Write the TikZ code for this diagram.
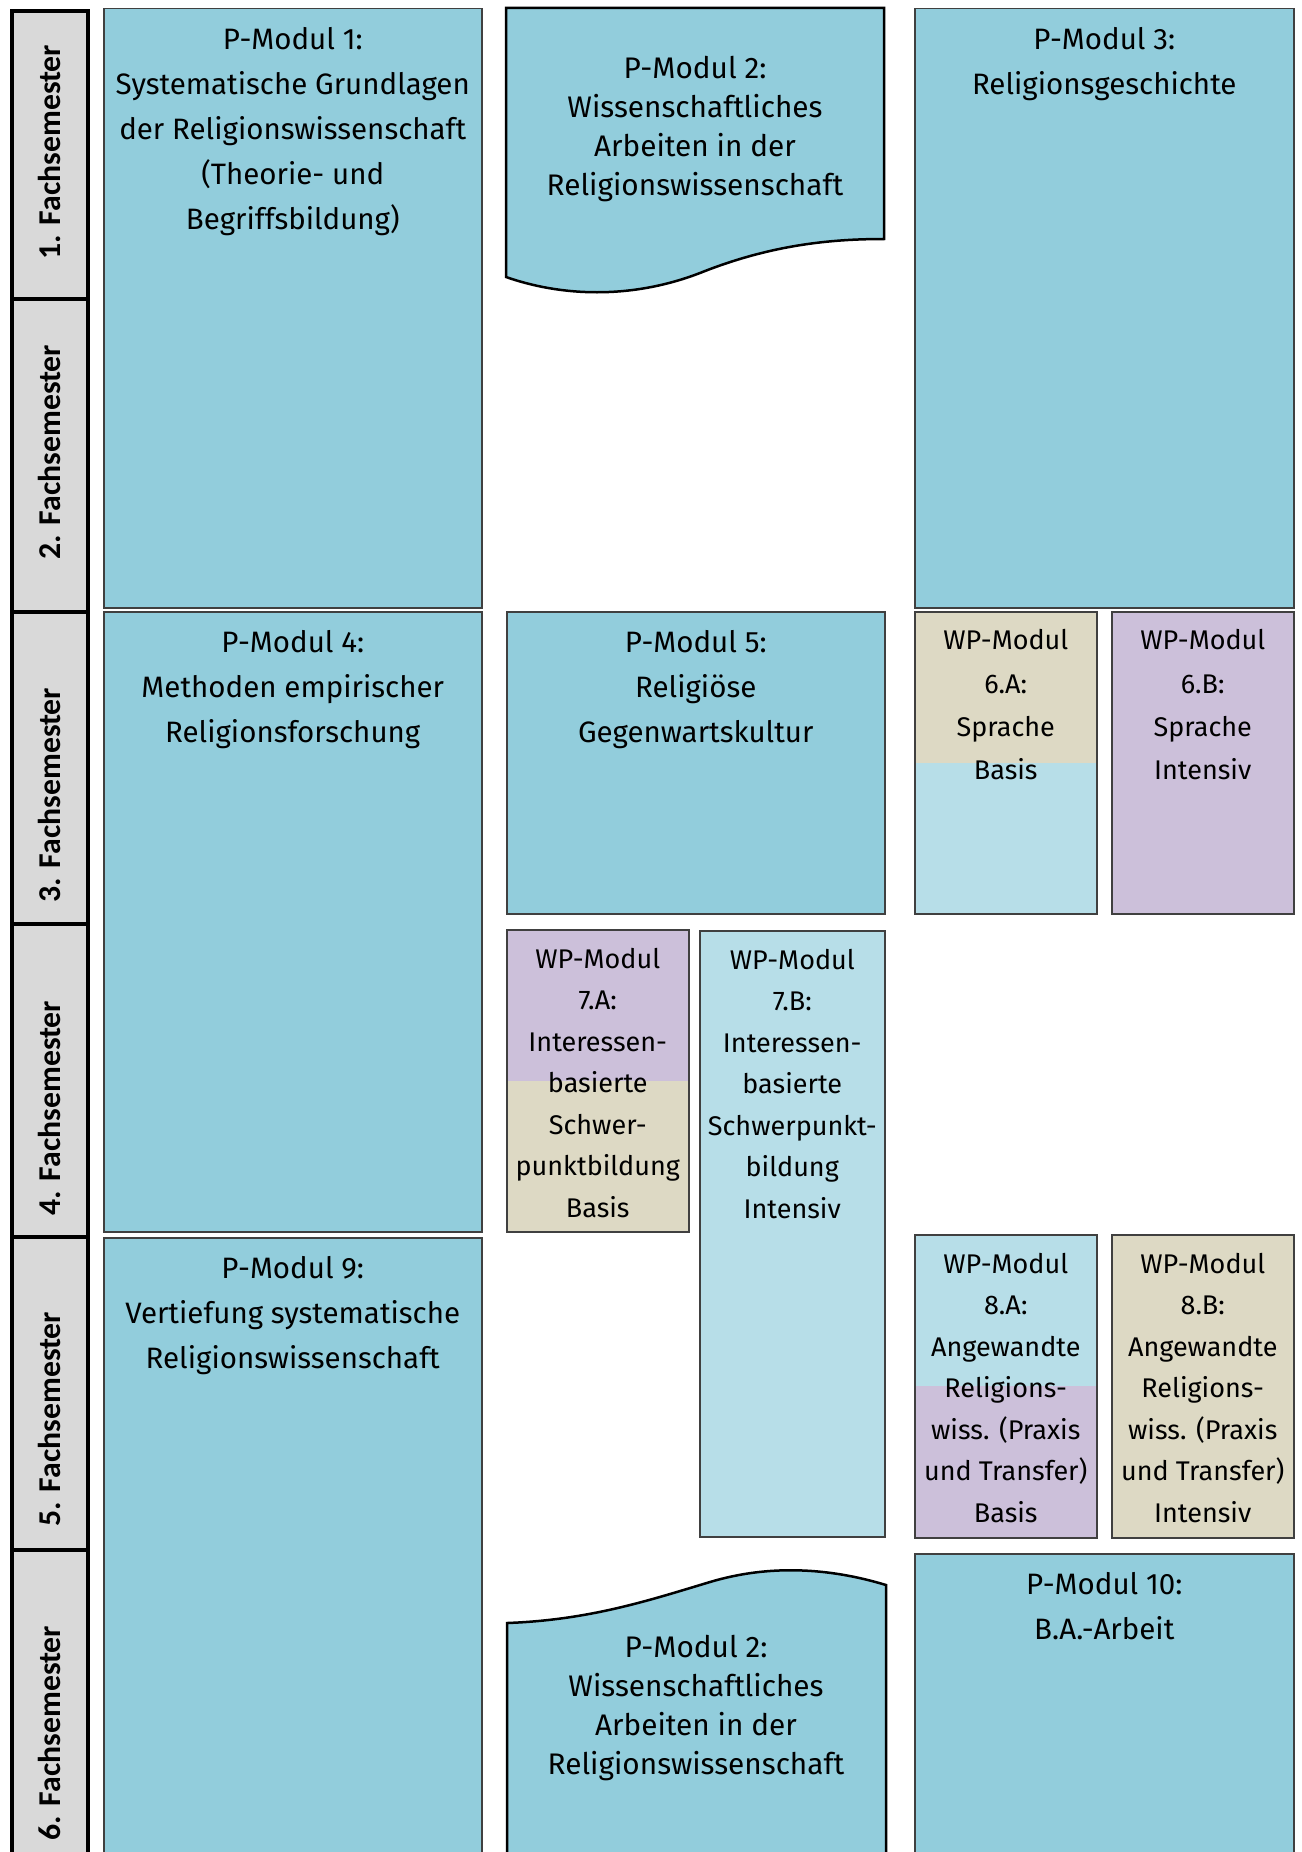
\documentclass[tikz,border=0pt]{standalone}
\usepackage{fontspec}
\setmainfont{Fira Sans}
\newfontfamily\semfont{Carlito}
\usetikzlibrary{positioning}

\definecolor{modblue}{HTML}{92CDDC}
\definecolor{paleblue}{HTML}{B7DEE8}
\definecolor{sand}{HTML}{DDD9C4}
\definecolor{lilac}{HTML}{CCC0DA}
\definecolor{semgray}{HTML}{D9D9D9}

\tikzset{
  basic/.style    = {draw=black!75, line width=0.6pt, rectangle, inner sep=0pt, anchor=north west},
  pmod/.style     = {basic, fill=modblue},
  wpmod/.style    = {basic, fill=#1},
  halves/.style 2 args = {basic, fill=#2, path picture={
      \fill[#1] (path picture bounding box.north west) rectangle (path picture bounding box.east);}},
  boxsize/.style 2 args = {minimum width=#1*0.4pt, minimum height=#2*0.4pt},
  semester/.style = {draw=black, line width=1.6pt, fill=semgray, inner sep=0pt, anchor=north west},
  semlabel/.style = {rotate=90, inner sep=0pt, font=\semfont\bfseries\fontsize{12.7}{15}\selectfont},
  ptext/.style    = {align=center, inner sep=0pt, font=\fontsize{11.8}{18}\selectfont},
  wptext/.style   = {align=center, inner sep=0pt, font=\fontsize{10.8}{16.6}\selectfont},
  wptall/.style   = {wptext, font=\fontsize{10.8}{17.3}\selectfont},
  wavetext/.style = {align=center, inner sep=0pt, anchor=north, font=\fontsize{11.9}{15.6}\selectfont},
  wave/.style     = {draw=black, line width=1pt, fill=modblue}
}

\begin{document}
\begin{tikzpicture}[x=0.4pt, y=-0.4pt]

\useasboundingbox (0,0) rectangle (1301,1852);
\clip (0,0) rectangle (1301,1852);

% semester column on the left
\foreach \n/\y/\h/\c in {1/9/288/152, 2/297/313/452, 3/610/312/795,
                         4/922/313/1108, 5/1235/313/1419, 6/1548/372/1733} {
  \node[semester, boxsize={76}{\h}] (s\n) at (10,\y) {};
  \node[semlabel] (l\n) at (49,\c) {\n. Fachsemester};
}

% P-Module
\node[pmod, boxsize={378}{599}] (m1) at (103,8) {};
\node[pmod, boxsize={379}{599}] (m3) at (914,8) {};
\node[pmod, boxsize={378}{620}] (m4) at (103,611) {};
\node[pmod, boxsize={378}{302}] (m5) at (506,611) {};
\node[pmod, boxsize={378}{700}] (m9) at (103,1237) {};
\node[pmod, boxsize={379}{400}] (m10) at (914,1553) {};

% WP-Module
\node[halves={sand}{paleblue}, boxsize={182}{302}] (m6a) at (914,611) {};
\node[wpmod=lilac, boxsize={182}{302}] (m6b) at (1111,611) {};
\node[halves={lilac}{sand}, boxsize={182}{302}] (m7a) at (506,929) {};
\node[wpmod=paleblue, boxsize={185}{606}] (m7b) at (699,930) {};
\node[halves={paleblue}{lilac}, boxsize={182}{303}] (m8a) at (914,1234) {};
\node[wpmod=sand, boxsize={182}{303}] (m8b) at (1111,1234) {};

% P-Modul 2 twice, as wave shapes
\draw[wave] (506,8) -- (884,8) -- (884,239)
  .. controls (830,239) and (770,245) .. (700,273)
  .. controls (630,300) and (560,296) .. (506,277) -- cycle;
\draw[wave] (507,1623) .. controls (590,1620) and (650,1600) .. (710,1582)
  .. controls (770,1564) and (830,1568) .. (886,1585)
  -- (886,1900) -- (507,1900) -- cycle;

\node[wavetext] (t2a) at (695,56)
  {P-Modul 2:\\Wissenschaftliches\\Arbeiten in der\\Religionswissenschaft};
\node[wavetext] (t2b) at (696,1635)
  {P-Modul 2:\\Wissenschaftliches\\Arbeiten in der\\Religionswissenschaft};

\begin{scope}[every node/.style={ptext}]
\node[below=7.6pt of m1.north] (t1)
  {P-Modul 1:\\Systematische Grundlagen\\der Religionswissenschaft\\(Theorie- und\\Begriffsbildung)};
\node[below=7.6pt of m3.north] (t3) {P-Modul 3:\\Religionsgeschichte};
\node[below=7.6pt of m4.north] (t4) {P-Modul 4:\\Methoden empirischer\\Religionsforschung};
\node[below=7.6pt of m5.north] (t5) {P-Modul 5:\\Religiöse\\Gegenwartskultur};
\node[below=7.6pt of m9.north] (t9) {P-Modul 9:\\Vertiefung systematische\\Religionswissenschaft};
\node[below=7.6pt of m10.north] (t10) {P-Modul 10:\\B.A.-Arbeit};
\end{scope}

\begin{scope}[every node/.style={wptext}]
\node[wptall, below=7.2pt of m6a.north] (t6a) {WP-Modul\\6.A:\\Sprache\\Basis};
\node[wptall, below=7.2pt of m6b.north] (t6b) {WP-Modul\\6.B:\\Sprache\\Intensiv};
\node[below=7.4pt of m7a.north] (t7a)
  {WP-Modul\\7.A:\\Interessen-\\basierte\\Schwer-\\punktbildung\\Basis};
\node[below=7.4pt of m7b.north] (t7b)
  {WP-Modul\\7.B:\\Interessen-\\basierte\\Schwerpunkt-\\bildung\\Intensiv};
\node[below=7.4pt of m8a.north] (t8a)
  {WP-Modul\\8.A:\\Angewandte\\Religions-\\wiss. (Praxis\\und Transfer)\\Basis};
\node[below=7.4pt of m8b.north] (t8b)
  {WP-Modul\\8.B:\\Angewandte\\Religions-\\wiss. (Praxis\\und Transfer)\\Intensiv};
\end{scope}

\end{tikzpicture}
\end{document}
